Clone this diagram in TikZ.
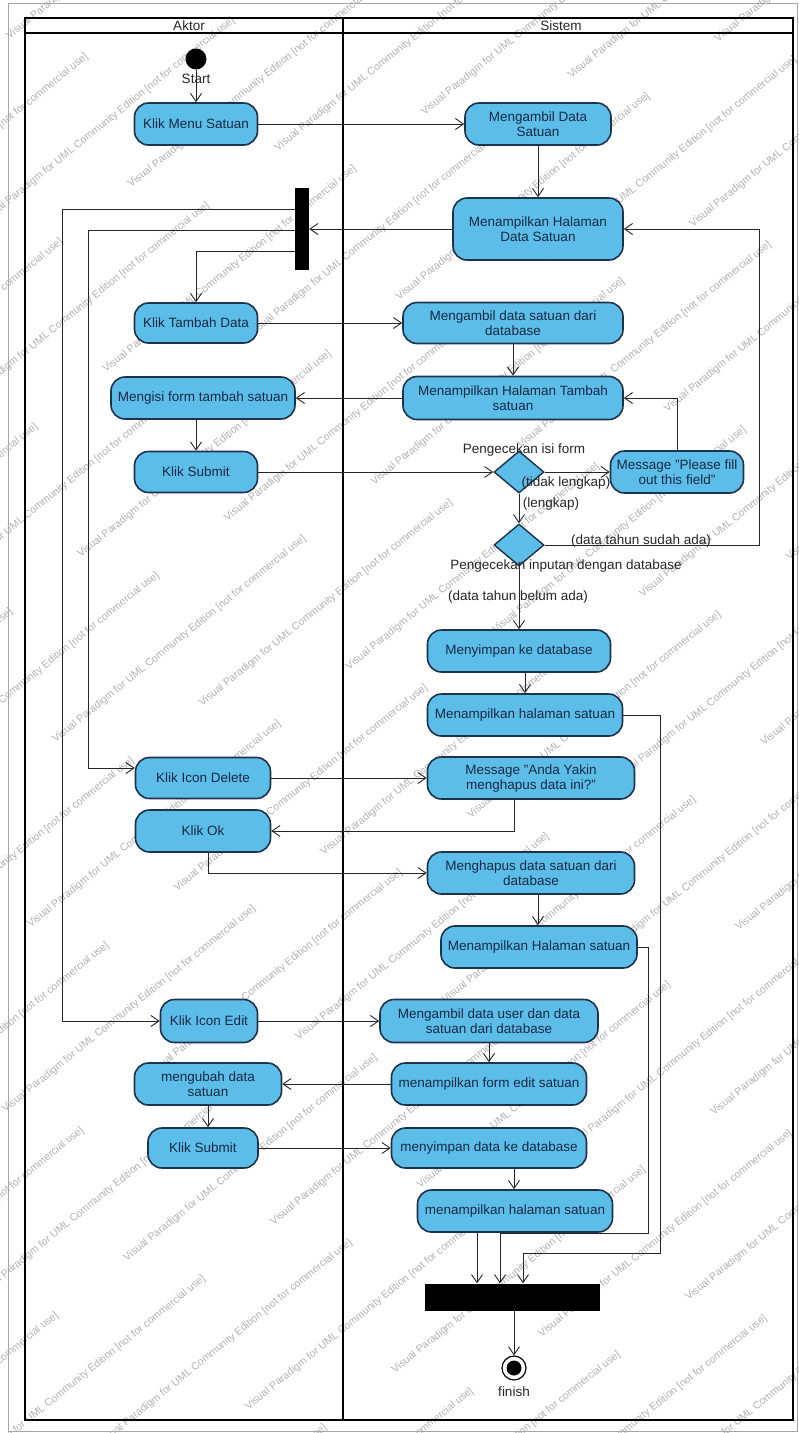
\documentclass[tikz,border=0pt]{standalone}
\usepackage{fontspec}
\setmainfont{Liberation Sans}
\usetikzlibrary{arrows.meta,shapes.geometric}
\definecolor{actfill}{RGB}{92,190,232}
\definecolor{actdraw}{RGB}{30,50,75}
\definecolor{acttext}{RGB}{25,40,70}
\definecolor{wmark}{RGB}{178,178,178}
\begin{document}
\begin{tikzpicture}[x=1pt,y=-1pt,
  act/.style={draw=actdraw, line width=1.6pt, fill=actfill, rounded corners=14pt, inner sep=0pt, align=center, text=acttext, font=\fontsize{13.5}{15}\selectfont},
  flow/.style={draw=black!85, line width=0.9pt, -{Straight Barb[length=8pt,width=11pt]}},
  dec/.style={diamond, draw=actdraw, line width=1.4pt, fill=actfill, inner sep=0pt, minimum width=50pt, minimum height=42pt},
  lbl/.style={font=\fontsize{13.5}{15}\selectfont, text=black!85, inner sep=0pt},
  bar/.style={fill=black, draw=none, inner sep=0pt},
  lane/.style={draw=black, line width=1.6pt},
  wm/.style={font=\fontsize{10.5}{11}\selectfont, text=wmark, rotate=39, inner sep=0pt},
]
\useasboundingbox (0,0) rectangle (799,1433);
\fill[white] (0,0) rectangle (799,1433);
% watermark
\begin{scope}
\clip (0,0) rectangle (799,1433);
\foreach \c [count=\i] in {-30,34,...,1650} {
  \foreach \k in {0,1,...,4} {
    \pgfmathsetmacro{\tt}{-950+mod(\i*137,410)+\k*410}
    \pgfmathsetmacro{\px}{\c*0.629+\tt*0.777}
    \pgfmathsetmacro{\py}{\c*0.777-\tt*0.629}
    \pgfmathparse{and(and(\px>-160,\px<960),and(\py>-120,\py<1550))}
    \ifdim\pgfmathresult pt>0.5pt
      \node[wm] (wm\i-\k) at (\px,\py) {Visual Paradigm for UML Community Edition [not for commercial use]};
    \fi
  }
}
\end{scope}
\draw[gray!70, line width=0.6pt] (8,3) rectangle (797,1431);
% swimlanes
\draw[lane] (25,18) rectangle (793,1420);
\draw[lane] (25,33) -- (793,33);
\draw[lane] (343,18) -- (343,1420);
\node[lbl] (hA) at (189,26) {Aktor};
\node[lbl] (hS) at (561,26) {Sistem};
% initial
\node[circle, fill=black, minimum size=21pt, inner sep=0pt] (start) at (196,59) {};
\node[lbl] (startl) at (196,79) {Start};
% actions
\node[act, minimum width=123pt, minimum height=42pt] (kms) at (196,124) {Klik Menu Satuan};
\node[act, minimum width=146pt, minimum height=42pt] (mds) at (538,124) {Mengambil Data\\Satuan};
\node[act, minimum width=170pt, minimum height=62pt] (mhds) at (538,229) {Menampilkan Halaman\\Data Satuan};
\node[bar, minimum width=14pt, minimum height=82pt] (fork) at (302,229) {};
\node[act, minimum width=123pt, minimum height=40pt] (ktd) at (196,323) {Klik Tambah Data};
\node[act, minimum width=220pt, minimum height=41pt] (mdsd) at (513,323) {Mengambil data satuan dari\\database};
\node[act, minimum width=220pt, minimum height=43pt] (mhts) at (513,398) {Menampilkan Halaman Tambah\\satuan};
\node[act, minimum width=184pt, minimum height=42pt] (mfts) at (203,398) {Mengisi form tambah satuan};
\node[act, minimum width=123pt, minimum height=41pt] (ks1) at (196,472) {Klik Submit};
\node[dec] (d1) at (519,472) {};
\node[act, minimum width=133pt, minimum height=42pt] (msg) at (677,472) {Message "Please fill\\out this field"};
\node[dec] (d2) at (519,545) {};
\node[act, minimum width=183pt, minimum height=42pt] (msd) at (519,651) {Menyimpan ke database};
\node[act, minimum width=195pt, minimum height=42pt] (mhs1) at (525,715) {Menampilkan halaman satuan};
\node[act, minimum width=135pt, minimum height=41pt] (kid) at (203,778) {Klik Icon Delete};
\node[act, minimum width=207pt, minimum height=42pt] (mayk) at (531,778) {Message "Anda Yakin\\menghapus data ini?"};
\node[act, minimum width=135pt, minimum height=42pt] (kok) at (203,831) {Klik Ok};
\node[act, minimum width=207pt, minimum height=42pt] (mhsd) at (531,873) {Menghapus data satuan dari\\database};
\node[act, minimum width=196pt, minimum height=42pt] (mhs2) at (539,947) {Menampilkan Halaman satuan};
\node[act, minimum width=97pt, minimum height=43pt] (kie) at (209,1021) {Klik Icon Edit};
\node[act, minimum width=218pt, minimum height=43pt] (mdu) at (489,1021) {Mengambil data user dan data\\satuan dari database};
\node[act, minimum width=195pt, minimum height=42pt] (mfe) at (489,1084) {menampilkan form edit satuan};
\node[act, minimum width=147pt, minimum height=42pt] (mud) at (208,1084) {mengubah data\\satuan};
\node[act, minimum width=110pt, minimum height=40pt] (ks2) at (203,1148) {Klik Submit};
\node[act, minimum width=195pt, minimum height=40pt] (mdk) at (489,1148) {menyimpan data ke database};
\node[act, minimum width=195pt, minimum height=42pt] (mhs3) at (515,1211) {menampilkan halaman satuan};
\node[bar, minimum width=175pt, minimum height=27pt] (join) at (512,1297) {};
\node[circle, draw=black, line width=1.2pt, fill=white, minimum size=24pt, inner sep=0pt] (fin) at (514,1368) {};
\node[circle, fill=black, minimum size=15pt, inner sep=0pt] (fini) at (fin) {};
\node[lbl] (finl) at (514,1392) {finish};
% guard labels
\node[lbl] (l1) at (524,450) {Pengecekan isi form};
\node[lbl] (l2) at (566,483) {(tidak lengkap)};
\node[lbl] (l3) at (551,504) {(lengkap)};
\node[lbl] (l4) at (641,541) {(data tahun sudah ada)};
\node[lbl] (l5) at (566,566) {Pengecekan inputan dengan database};
\node[lbl] (l6) at (518,597) {(data tahun belum ada)};
% flows
\draw[flow] (start) -- (kms);
\draw[flow] (kms.east) -- (mds.west);
\draw[flow] (mds.south) -- (mhds.north);
\draw[flow] (mhds.west) -- (fork.east);
\draw[flow] (fork.west |- 0,251) -| (ktd.north);
\draw[flow] (fork.west |- 0,230) -- (88,230) -- (88,768) -- (kid.west |- 0,768);
\draw[flow] (fork.west |- 0,209) -- (62,209) -- (62,1021) -- (kie.west);
\draw[flow] (ktd.east) -- (mdsd.west);
\draw[flow] (mdsd.south) -- (mhts.north);
\draw[flow] (mhts.west) -- (mfts.east);
\draw[flow] (196,0 |- mfts.south) -- (ks1.north);
\draw[flow] (ks1.east) -- (d1.west);
\draw[flow] (d1.east) -- (msg.west);
\draw[flow] (msg.north) |- (mhts.east);
\draw[flow] (d1.south) -- (d2.north);
\draw[flow] (d2.east) -- (759,545) |- (mhds.east);
\draw[flow] (d2.south) -- (msd.north);
\draw[flow] (525,0 |- msd.south) -- (mhs1.north);
\draw[flow] (mhs1.east) -- (660,715) -- (660,1253) -- (523,1253) -- (523,0 |- join.north);
\draw[flow] (kid.east) -- (mayk.west);
\draw[flow] (514,0 |- mayk.south) -- (514,831) -- (kok.east);
\draw[flow] (208,0 |- kok.south) -- (208,873) -- (mhsd.west);
\draw[flow] (538,0 |- mhsd.south) -- (538,0 |- mhs2.north);
\draw[flow] (mhs2.east) -- (648,947) -- (648,1233) -- (500,1233) -- (500,0 |- join.north);
\draw[flow] (kie.east) -- (mdu.west);
\draw[flow] (mdu.south) -- (mfe.north);
\draw[flow] (mfe.west) -- (mud.east);
\draw[flow] (mud.south) -- (208,0 |- ks2.north);
\draw[flow] (ks2.east) -- (mdk.west);
\draw[flow] (514,0 |- mdk.south) -- (514,0 |- mhs3.north);
\draw[flow] (477,0 |- mhs3.south) -- (477,0 |- join.north);
\draw[flow] (fin |- join.south) -- (fin.north);
\end{tikzpicture}
\end{document}
